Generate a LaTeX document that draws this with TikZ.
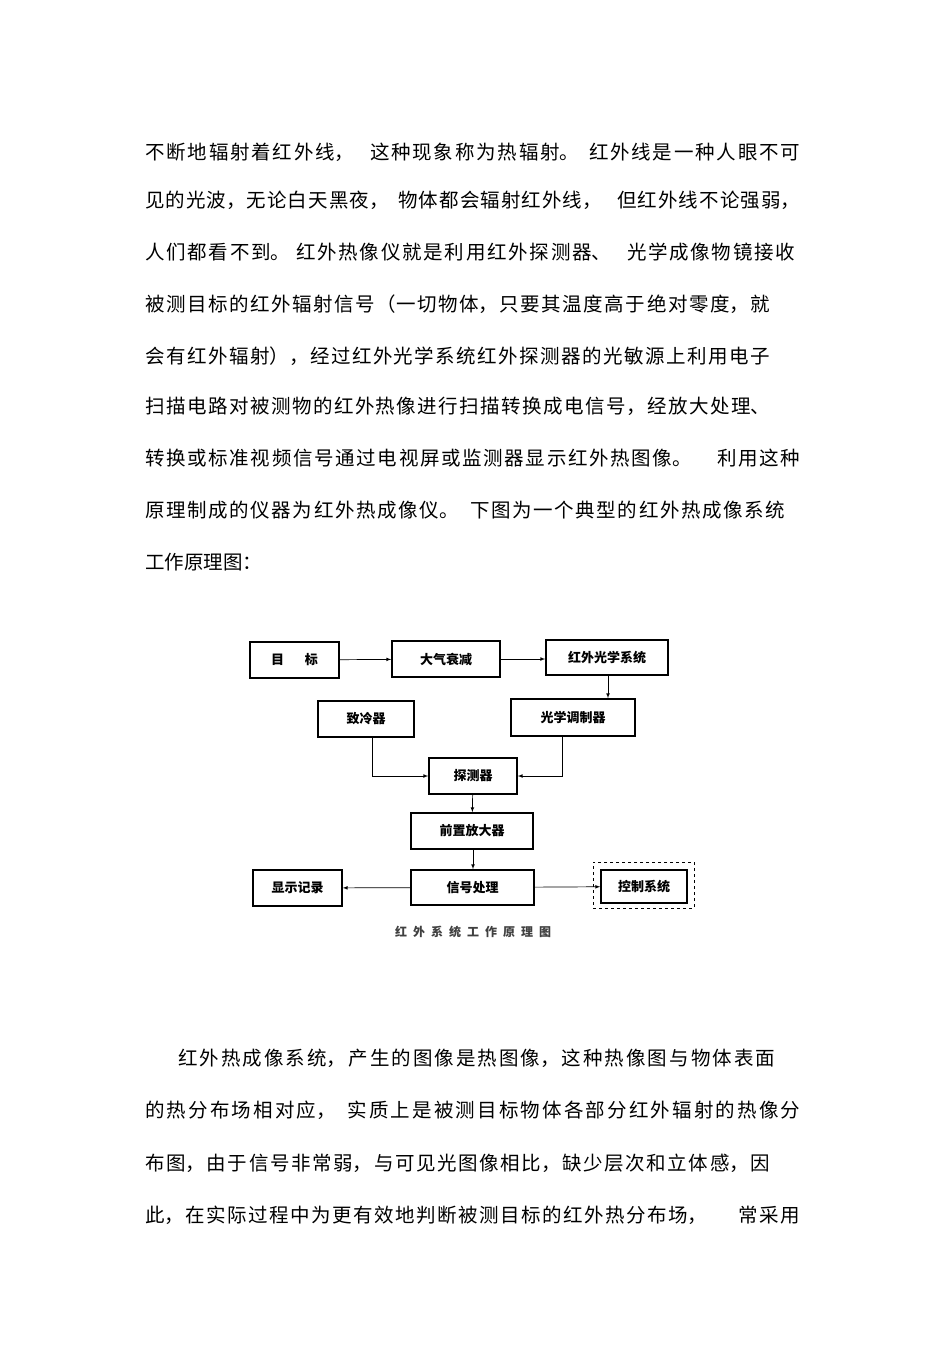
\documentclass[tikz,border=0pt]{standalone}
\usepackage{fontspec}
\setmainfont{Noto Sans CJK SC}
\XeTeXlinebreaklocale "zh"
\XeTeXlinebreakskip=0pt plus 2pt
\begin{document}
\begin{tikzpicture}[x=1pt,y=-1pt,
  ln/.style={anchor=west,inner sep=0pt,font=\fontsize{19.5}{20}\selectfont},
  bx/.style={draw,line width=1.6pt,inner sep=0pt,font=\fontsize{13}{14}\selectfont\bfseries},
  ar/.style={-latex,line width=0.7pt}]
\useasboundingbox (0,0) rectangle (950,1345);
\fill[white] (0,0) rectangle (950,1345);
\node[ln] (l1) at (145,152) {\parbox{655pt}{\parfillskip=0pt\noindent 不断地辐射着红外线，\hspace{0.8em}这种现象称为热辐射。\hspace{0.5em}红外线是一种人眼不可}};
\node[ln] (l2) at (145,200) {\parbox{655pt}{\parfillskip=0pt\noindent 见的光波，无论白天黑夜，\hspace{0.5em}物体都会辐射红外线，\hspace{0.8em}但红外线不论强弱，}};
\node[ln] (l3) at (145,252) {\parbox{650pt}{\parfillskip=0pt\noindent 人们都看不到。\hspace{0.3em}红外热像仪就是利用红外探测器、\hspace{0.8em}光学成像物镜接收}};
\node[ln] (l4) at (145,304) {\parbox{625pt}{\parfillskip=0pt\noindent 被测目标的红外辐射信号（一切物体，只要其温度高于绝对零度，就}};
\node[ln] (l5) at (145,356) {\parbox{625pt}{\parfillskip=0pt\noindent 会有红外辐射），经过红外光学系统红外探测器的光敏源上利用电子}};
\node[ln] (l6) at (145,406) {\parbox{625pt}{\parfillskip=0pt\noindent 扫描电路对被测物的红外热像进行扫描转换成电信号，经放大处理、}};
\node[ln] (l7) at (145,458) {\parbox{655pt}{\parfillskip=0pt\noindent 转换或标准视频信号通过电视屏或监测器显示红外热图像。\hspace{1.3em}利用这种}};
\node[ln] (l8) at (145,510) {\parbox{640pt}{\parfillskip=0pt\noindent 原理制成的仪器为红外热成像仪。\hspace{0.6em}下图为一个典型的红外热成像系统}};
\node[ln] (l9) at (145,562) {工作原理图：};
\node[ln] (b1) at (178,1058) {\parbox{597pt}{\parfillskip=0pt\noindent 红外热成像系统，产生的图像是热图像，这种热像图与物体表面}};
\node[ln] (b2) at (145,1110) {\parbox{655pt}{\parfillskip=0pt\noindent 的热分布场相对应，\hspace{0.6em}实质上是被测目标物体各部分红外辐射的热像分}};
\node[ln] (b3) at (145,1163) {\parbox{625pt}{\parfillskip=0pt\noindent 布图，由于信号非常弱，与可见光图像相比，缺少层次和立体感，因}};
\node[ln] (b4) at (145,1215) {\parbox{655pt}{\parfillskip=0pt\noindent 此，在实际过程中为更有效地判断被测目标的红外热分布场，\hspace{1.6em}常采用}};
% diagram
\node[bx,minimum width=89pt,minimum height=36pt] (mb) at (294.5,660) {目\hspace{1.6em}标};
\node[bx,minimum width=108pt,minimum height=36pt] (dq) at (446,659) {大气衰减};
\node[bx,minimum width=122pt,minimum height=35pt] (hw) at (607,657.5) {红外光学系统};
\node[bx,minimum width=96pt,minimum height=36pt] (zl) at (366,719) {致冷器};
\node[bx,minimum width=124pt,minimum height=37pt] (gx) at (573,717.5) {光学调制器};
\node[bx,minimum width=88pt,minimum height=36pt] (tc) at (473,776) {探测器};
\node[bx,minimum width=122pt,minimum height=36pt] (qz) at (472,831) {前置放大器};
\node[bx,minimum width=89pt,minimum height=36pt] (xs) at (297.5,888) {显示记录};
\node[bx,minimum width=123pt,minimum height=35pt] (xh) at (472.5,887.5) {信号处理};
\node[bx,minimum width=86pt,minimum height=33pt] (kz) at (644,886.5) {控制系统};
\node[draw,dashed,line width=0.6pt,minimum width=101pt,minimum height=46pt,inner sep=0pt] (kzd) at (643.5,885) {};
\draw[ar] (mb) -- (dq);
\draw[ar] (dq.east) -- (hw.west|-dq.east);
\draw[ar] (hw.south-|608,0) -- (gx.north-|608,0);
\draw[ar] (zl.south-|372,0) |- (tc.west);
\draw[ar] (gx.south-|562,0) |- (tc.east);
\draw[ar] (tc) -- (qz);
\draw[ar] (qz.south-|473,0) -- (xh.north-|473,0);
\draw[ar] (xh) -- (xs);
\draw[ar] (xh) -- (kz);
\node[inner sep=0pt,font=\fontsize{12}{13}\selectfont\bfseries,text=black!75] (cap) at (473,932) {红\hspace{0.5em}外\hspace{0.5em}系\hspace{0.5em}统\hspace{0.5em}工\hspace{0.5em}作\hspace{0.5em}原\hspace{0.5em}理\hspace{0.5em}图};
\end{tikzpicture}
\end{document}
